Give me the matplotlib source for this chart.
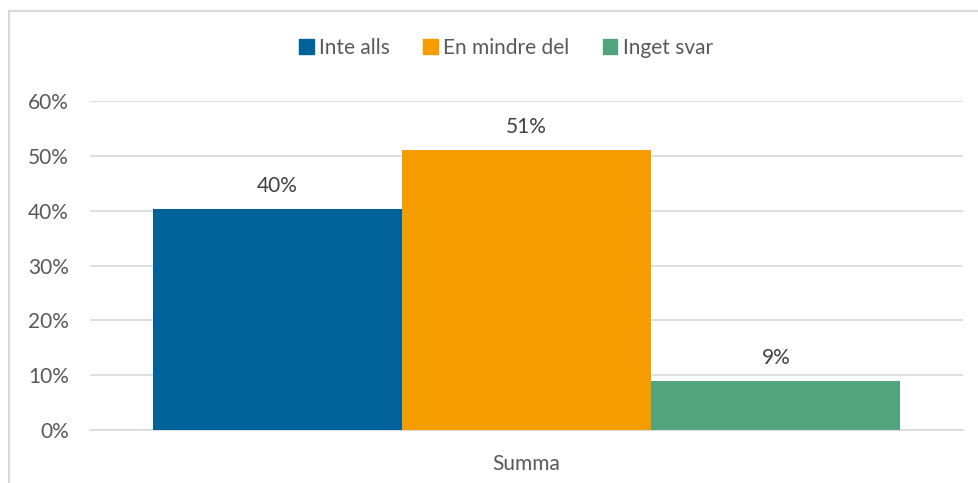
import matplotlib
matplotlib.use("Agg")
import matplotlib.pyplot as plt
from matplotlib.patches import Rectangle
from matplotlib.ticker import PercentFormatter

series = ["Inte alls", "En mindre del", "Inget svar"]
values = [40.3, 51.0, 9.0]
labels = ["40%", "51%", "9%"]
category = "Summa"
colors = ["#006298", "#F59C00", "#52A47F"]

plt.rcParams["font.family"] = ["Lato", "DejaVu Sans"]

fig = plt.figure(figsize=(9.79, 4.83), dpi=100)
ax = fig.add_axes([0.0919, 0.1097, 0.8918, 0.6812])

# light frame around the chart area (only top and left visible)
fig.add_artist(plt.Line2D([9 / 979, 9 / 979], [0, 1 - 11 / 483], color="#d9d9d9", lw=1.5,
                          transform=fig.transFigure))
fig.add_artist(plt.Line2D([9 / 979, 1], [1 - 11 / 483, 1 - 11 / 483], color="#d9d9d9", lw=1.5,
                          transform=fig.transFigure))

xpos = [-1, 0, 1]
bars = ax.bar(xpos, values, width=1.0, color=colors, label=series, zorder=3)
for x, v, t in zip(xpos, values, labels):
    ax.text(x, v + 2.4, t, ha="center", va="bottom", fontsize=15, color="#404040")

ax.set_ylim(0, 60)
ax.set_xlim(-1.751, 1.751)
ax.set_yticks(range(0, 61, 10))
ax.yaxis.set_major_formatter(PercentFormatter(decimals=0))
ax.set_xticks([0])
ax.set_xticklabels([category])
ax.tick_params(axis="both", length=0, labelsize=15, colors="#595959")
ax.tick_params(axis="y", pad=15)
ax.tick_params(axis="x", pad=17)
ax.grid(axis="y", color="#d9d9d9", lw=1.2, zorder=0)
for s in ["top", "right", "left"]:
    ax.spines[s].set_visible(False)
ax.spines["bottom"].set_color("#d9d9d9")
ax.spines["bottom"].set_linewidth(1.2)

handles = [Rectangle((0, 0), 1, 1, color=c) for c in colors]
fig.legend(handles, series, loc="center", bbox_to_anchor=(0.517, 1 - 48 / 483), ncol=3,
           frameon=False, fontsize=15, labelcolor="#595959", handlelength=0.7,
           handleheight=0.7, handletextpad=0.25, columnspacing=1.6)

fig.savefig("out.png", dpi=100, facecolor="white")
